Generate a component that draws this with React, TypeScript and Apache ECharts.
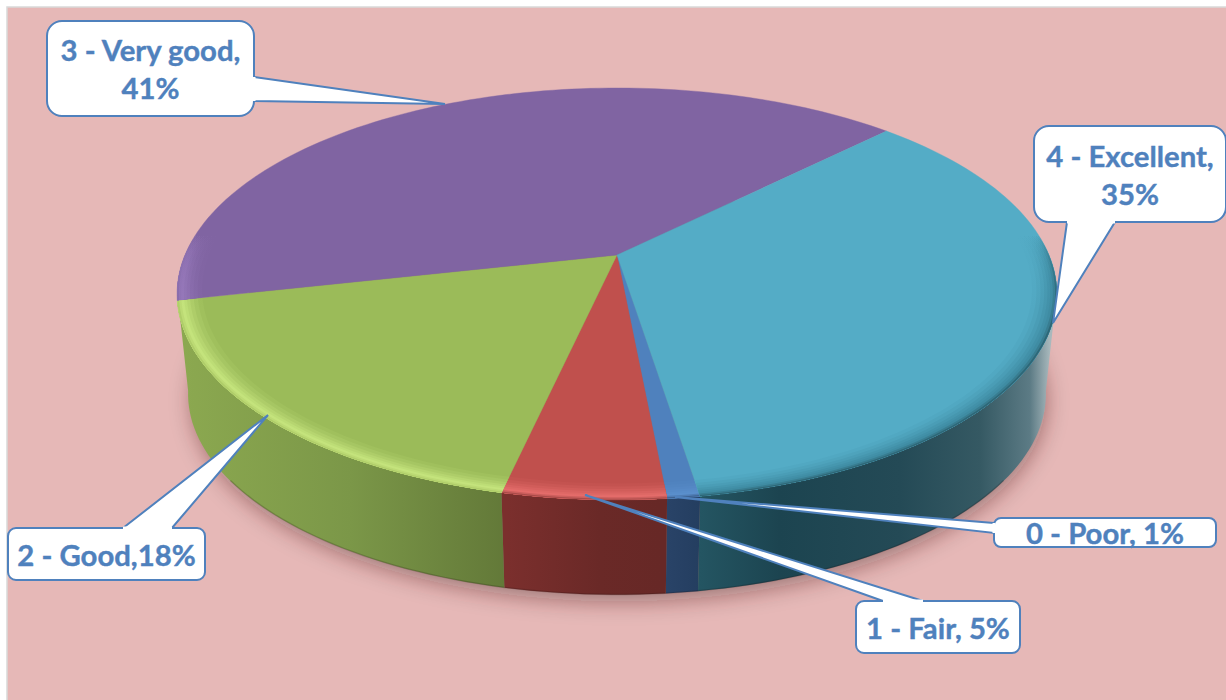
import React, { useEffect, useRef } from "react";
import * as echarts from "echarts";

// ---- data ----
const categories = ["0 - Poor", "1 - Fair", "2 - Good", "3 - Very good", "4 - Excellent"];
const values = [1, 5, 18, 41, 35];
const labelTexts = ["0 - Poor, 1%", "1 - Fair, 5%", "2 - Good,18%", "3 - Very good,\n41%", "4 - Excellent,\n35%"];

// ---- styles ----
const topColors = ["#4F81BD", "#C0504D", "#9BBB59", "#8064A2", "#54ACC6"];
const rimColors = ["#5A8FCC", "#E46C6A", "#C4E37C", "#9678BA", "#3F8CA3"];
const rimEdges = ["#34547F", "#96403E", "#A8C662", "#8167A5", "#285A68"];
const wallStops: [number, string][][] = [
  [[660, "#2A4469"], [700, "#243E60"]],
  [[507, "#7B2F2D"], [600, "#6A2927"], [660, "#672826"]],
  [[176, "#8CA950"], [350, "#7B9748"], [510, "#627838"]],
  [[176, "#6E5589"], [200, "#6E5589"]],
  [[700, "#245562"], [780, "#1C4450"], [900, "#244A56"], [980, "#355963"], [1030, "#5C7B85"], [1050, "#A8B8BC"]],
];

// ---- layout ----
const START_ANGLE = 171;
const PIE = { cx: 617, cy: 255, a: 432, b: 198.6, p: 0.189, cyBottom: 356, scaleBottom: 0.975 };
const WALL_LIMITS = [100, 260];
const CALLOUTS = [
  { box: [994, 518, 222, 29], r: 7, base: [[994, 523], [994, 533]], tip: [675, 497] },
  { box: [856, 601, 164, 52], r: 8, base: [[883, 601], [923, 601]], tip: [585, 495] },
  { box: [8, 528, 197, 52], r: 8, base: [[123, 528], [172, 528]], tip: [268, 415] },
  { box: [47, 21, 207, 95], r: 15, base: [[254, 77], [254, 101]], tip: [445, 104] },
  { box: [1034, 126, 192, 96], r: 15, base: [[1067, 222], [1115, 222]], tip: [1053, 323] },
];
const FONT = 'bold 29.3px Lato, "Open Sans", sans-serif';
const TEXT = "#4F81BD";

const total = values.reduce((s, v) => s + v, 0);
function sliceRange(i: number): [number, number] {
  let c = 0;
  for (let k = 0; k < i; k++) c += values[k];
  return [START_ANGLE + (c / total) * 360, START_ANGLE + ((c + values[i]) / total) * 360];
}

function proj(deg: number, r: number, bottom: boolean): number[] {
  const t = (deg * Math.PI) / 180;
  const s = bottom ? PIE.scaleBottom : 1;
  const cy = bottom ? PIE.cyBottom : PIE.cy;
  const w = 1 + PIE.p * r * Math.cos(t);
  return [PIE.cx + (s * PIE.a * r * Math.sin(t)) / w, cy - (s * PIE.b * r * Math.cos(t)) / w];
}

function arc(a0: number, a1: number, r: number, bottom = false): number[][] {
  const n = Math.max(2, Math.ceil(Math.abs(a1 - a0) / 1.5));
  const out: number[][] = [];
  for (let i = 0; i <= n; i++) out.push(proj(a0 + ((a1 - a0) * i) / n, r, bottom));
  return out;
}

function hex(c: string): number[] {
  return [1, 3, 5].map((i) => parseInt(c.slice(i, i + 2), 16));
}
function mix(a: string, b: string, t: number): number[] {
  const A = hex(a);
  const B = hex(b);
  return A.map((v, i) => Math.round(v + (B[i] - v) * t));
}

const BEVEL: [number, number, number][] = [
  // radius, mix top->rim, mix rim->edge
  [0.945, 0.12, 0],
  [0.955, 0.28, 0],
  [0.964, 0.46, 0],
  [0.972, 0.66, 0],
  [0.979, 0.84, 0],
  [0.985, 1, 0],
  [0.991, 1, 0.3],
  [0.996, 1, 0.75],
];

function renderWall(params: any) {
  const i = params.dataIndex;
  let [a0, a1] = sliceRange(i);
  if (a0 >= 360) { a0 -= 360; a1 -= 360; }
  // The slice that ends on the left silhouette carries the wall up to it;
  // the one that starts only just before the silhouette has no visible wall.
  const crossesLimit = a0 < WALL_LIMITS[1] && a1 > WALL_LIMITS[1];
  const endsNearLimit = a1 < WALL_LIMITS[1] && a1 > WALL_LIMITS[1] - 10;
  if (crossesLimit) return { type: "group", children: [] };
  const from = Math.max(a0, WALL_LIMITS[0]);
  const to = endsNearLimit ? WALL_LIMITS[1] : Math.min(a1, WALL_LIMITS[1]);
  if (to <= from) return { type: "group", children: [] };
  const pts = [...arc(from, to, 1), ...arc(to, from, 1, true)];
  const stops = wallStops[i];
  const x0 = 176, x1 = 1056;
  const fill = {
    type: "linear", x: x0, y: 0, x2: x1, y2: 0, global: true,
    colorStops: stops.map(([x, color]) => ({ offset: (x - x0) / (x1 - x0), color })),
  };
  return {
    type: "group",
    children: [
      { type: "polygon", shape: { points: pts }, style: { fill } },
      {
        type: "polyline",
        shape: { points: arc(Math.max(from, 125), Math.min(to, 235), 0.999, true) },
        style: { fill: "none", stroke: "rgba(30,15,15,0.2)", lineWidth: 1.5 },
      },
    ],
  };
}

function renderShadow() {
  return {
    type: "polygon",
    shape: { points: arc(0, 360, 0.995, true) },
    style: {
      fill: "#8A6A68",
      shadowBlur: 22,
      shadowOffsetX: 2,
      shadowOffsetY: 8,
      shadowColor: "rgba(60,30,30,0.42)",
    },
  };
}

function renderTop(params: any) {
  const i = params.dataIndex;
  const [a0, a1] = sliceRange(i);
  const center = proj(0, 0, false);
  const children: any[] = [
    {
      type: "polygon",
      shape: { points: [center, ...arc(a0, a1, 1)] },
      style: { fill: topColors[i], stroke: topColors[i], lineWidth: 0.4 },
    },
  ];
  BEVEL.forEach(([r, t1, t2]) => {
    const base = mix(topColors[i], rimColors[i], t1);
    const c = t2 > 0 ? mix(rimColors[i], rimEdges[i], t2) : base;
    const rgb = c.join(",");
    children.push({
      type: "polygon",
      shape: { points: [...arc(a0, a1, r), ...arc(a1, a0, 1)] },
      style: {
        fill: {
          type: "linear", x: 0, y: 235, x2: 0, y2: 310, global: true,
          colorStops: [
            { offset: 0, color: `rgba(${rgb},0)` },
            { offset: 1, color: `rgba(${rgb},1)` },
          ],
        },
      },
    });
  });
  return { type: "group", children };
}

function renderCallout(params: any) {
  const i = params.dataIndex;
  const c = CALLOUTS[i];
  const [x, y, w, h] = c.box;
  const lines = labelTexts[i].split("\n");
  const lh = 38;
  const cy = y + h / 2;
  const first = cy - ((lines.length - 1) * lh) / 2;
  const blue = "#4F81BD";
  return {
    type: "group",
    children: [
      {
        type: "rect",
        shape: { x, y, width: w, height: h, r: c.r },
        style: { fill: "#FFFFFF", stroke: blue, lineWidth: 2 },
      },
      {
        type: "polygon",
        shape: { points: [c.base[0], c.tip, c.base[1]] },
        style: { fill: "#FFFFFF", stroke: blue, lineWidth: 2, lineJoin: "miter" },
      },
      {
        type: "line",
        shape: { x1: c.base[0][0], y1: c.base[0][1], x2: c.base[1][0], y2: c.base[1][1] },
        style: { stroke: "#FFFFFF", lineWidth: 3 },
      },
      ...lines.map((text, k) => ({
        type: "text",
        style: {
          text, x: x + w / 2, y: first + k * lh,
          font: FONT, fill: TEXT, stroke: TEXT, lineWidth: 0.4,
          align: "center", verticalAlign: "middle",
          textAlign: "center", textVerticalAlign: "middle",
        },
      })),
    ],
  };
}

export default function App() {
  const ref = useRef<HTMLDivElement>(null);
  useEffect(() => {
    document.body.style.margin = "0";
    document.body.style.background = "#FFFFFF";
    const chart = echarts.init(ref.current!, undefined, { renderer: "svg" });
    const data = values.map((v, i) => ({ name: categories[i], value: [i, v] }));
    chart.setOption({
      animation: false,
      backgroundColor: "#FFFFFF",
      graphic: [
        {
          type: "rect", z: -1, silent: true,
          shape: { x: 7, y: 7, width: 1225, height: 700 },
          style: { fill: "#E6B8B7", stroke: "#D9D9D9", lineWidth: 1.5 },
        },
      ],
      series: [
        { type: "custom", coordinateSystem: "none", z: 1, silent: true, data: [{ value: [0, 0] }], renderItem: renderShadow },
        { type: "custom", coordinateSystem: "none", z: 2, silent: true, data, renderItem: renderWall },
        { type: "custom", coordinateSystem: "none", z: 3, silent: true, data, renderItem: renderTop },
        { type: "custom", coordinateSystem: "none", z: 4, silent: true, data, renderItem: renderCallout },
      ],
    });
    return () => chart.dispose();
  }, []);
  return <div ref={ref} style={{ width: 1226, height: 700 }} />;
}
